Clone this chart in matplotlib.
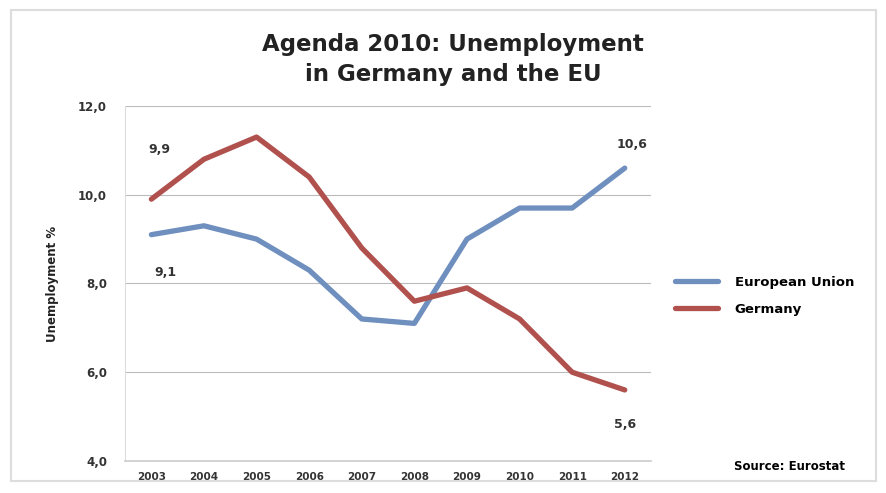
import matplotlib.pyplot as plt
from matplotlib.patches import Rectangle

years = [2003, 2004, 2005, 2006, 2007, 2008, 2009, 2010, 2011, 2012]
eu = [9.1, 9.3, 9.0, 8.3, 7.2, 7.1, 9.0, 9.7, 9.7, 10.6]
germany = [9.9, 10.8, 11.3, 10.4, 8.8, 7.6, 7.9, 7.2, 6.0, 5.6]
y_ticks = [4.0, 6.0, 8.0, 10.0, 12.0]

blue = "#6f8fbf"
red = "#b0514e"

fig = plt.figure(figsize=(8.87, 4.93), dpi=100)
fig.patches.append(Rectangle((0.012, 0.025), 0.976, 0.955, transform=fig.transFigure,
                             fill=False, edgecolor="#dddddd", linewidth=1.5))

ax = fig.add_axes([0.141, 0.065, 0.593, 0.72])
ax.plot(years, eu, color=blue, lw=3.8, label="European Union", solid_capstyle="round")
ax.plot(years, germany, color=red, lw=3.8, label="Germany", solid_capstyle="round")

ax.set_xlim(2002.5, 2012.5)
ax.set_ylim(4, 12)
ax.set_xticks(years)
ax.set_xticklabels([str(y) for y in years], fontsize=7.5, fontweight="bold", color="#333333")
ax.set_yticks(y_ticks)
ax.set_yticklabels([f"{v:.1f}".replace(".", ",") for v in y_ticks],
                   fontsize=8.5, fontweight="bold", color="#333333")
ax.tick_params(axis="x", length=0, pad=8)
ax.tick_params(axis="y", length=0, pad=13)
ax.grid(axis="y", color="#bbbbbb", lw=0.8)
ax.set_axisbelow(True)
for s in ["top", "right"]:
    ax.spines[s].set_visible(False)
ax.spines["left"].set_color("#dddddd")
ax.spines["bottom"].set_color("#cccccc")
ax.spines["bottom"].set_linewidth(1.2)
ax.set_ylabel("Unemployment %", fontsize=8.5, fontweight="bold", labelpad=14, color="#222222")

# data labels
lbl = dict(textcoords="offset points", ha="center", va="center",
           fontsize=9, fontweight="bold", color="#333333")
ax.annotate("9,9", (years[0], germany[0]), xytext=(6, 36), **lbl)
ax.annotate("9,1", (years[0], eu[0]), xytext=(10, -27), **lbl)
ax.annotate("10,6", (years[-1], eu[-1]), xytext=(5, 17), **lbl)
ax.annotate("5,6", (years[-1], germany[-1]), xytext=(0, -25), **lbl)

fig.text(0.511, 0.826, "Agenda 2010: Unemployment\nin Germany and the EU", ha="center",
         va="bottom", fontsize=16.5, fontweight="bold", color="#222222", linespacing=1.35)

fig.legend(loc="center left", bbox_to_anchor=(0.748, 0.4), frameon=False,
           prop={"size": 9.5, "weight": "bold"}, handlelength=3.2, handletextpad=1.3,
           labelspacing=1.1)

fig.text(0.89, 0.047, "Source: Eurostat", ha="center", fontsize=8.5, fontweight="bold")

fig.savefig("out.png", dpi=100)
